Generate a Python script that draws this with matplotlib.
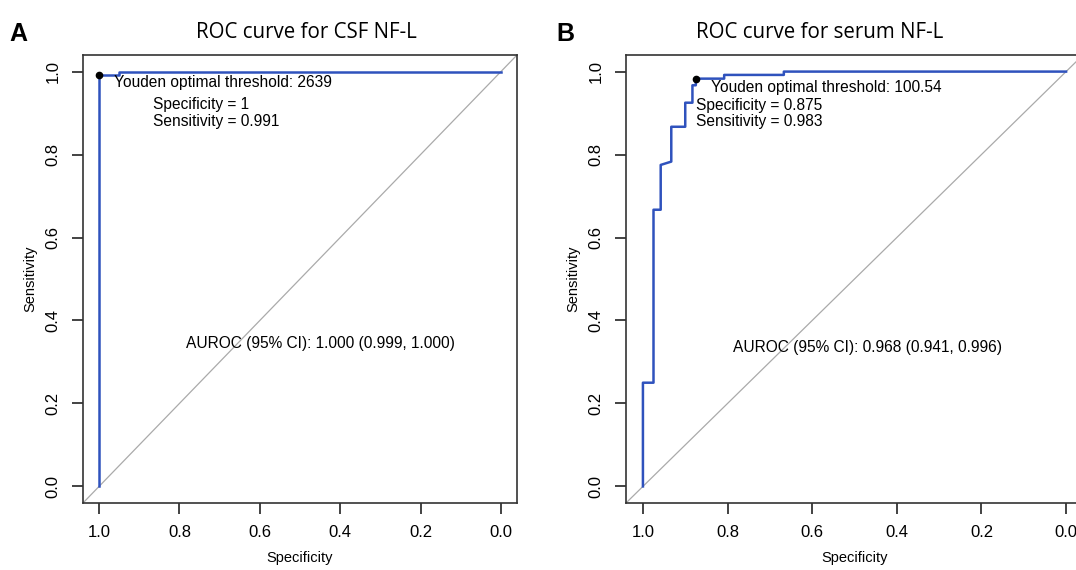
import matplotlib
matplotlib.use("Agg")
import matplotlib.pyplot as plt

plt.rcParams['font.family'] = ['Liberation Sans', 'DejaVu Sans']

# ROC path points (specificity, sensitivity)
csf_spec = [1.0, 1.0, 0.95, 0.95, 0.0]
csf_sens = [0.0, 0.991, 0.991, 1.0, 1.0]

serum_spec = [1.0, 1.0, 0.975, 0.975, 0.958, 0.958, 0.933, 0.933, 0.9, 0.9,
              0.883, 0.883, 0.875, 0.875, 0.808, 0.808, 0.667, 0.667, 0.0]
serum_sens = [0.0, 0.25, 0.25, 0.667, 0.667, 0.775, 0.783, 0.867, 0.867, 0.925,
              0.925, 0.967, 0.967, 0.983, 0.983, 0.992, 0.992, 1.0, 1.0]

titles = ["ROC curve for CSF NF-L", "ROC curve for serum NF-L"]
letters = ["A", "B"]
youden_thr = ["2639", "100.54"]
youden_spec = [1.0, 0.875]
youden_sens = [0.991, 0.983]
auroc = ["1.000 (0.999, 1.000)", "0.968 (0.941, 0.996)"]
ticks = [0.0, 0.2, 0.4, 0.6, 0.8, 1.0]

blue = '#2f52bd'

fig = plt.figure(figsize=(10.76, 5.70), dpi=100)
W, H = 1076, 570
boxes = [(83, 517), (626, 1083)]
top_px, bot_px = 55, 503

curves = [(csf_spec, csf_sens), (serum_spec, serum_sens)]
# label positions (data coords) for youden text lines
thr_pos = [(0.963, 0.974), (0.840, 0.962)]
spec_pos = [(0.866, 0.921), (0.874, 0.919)]
sens_pos = [(0.866, 0.880), (0.874, 0.879)]
auc_pos = [(0.449, 0.344), (0.470, 0.334)]
fs = 11.2

for i in range(2):
    l, r = boxes[i]
    ax = fig.add_axes([l / W, 1 - bot_px / H, (r - l) / W, (bot_px - top_px) / H])
    ax.set_xlim(1.04, -0.04)
    ax.set_ylim(-0.04, 1.04)
    # chance diagonal
    ax.plot([1.04, -0.04], [-0.04, 1.04], color='#aaaaaa', lw=0.9, zorder=1)
    sx, sy = curves[i]
    ax.plot(sx, sy, color=blue, lw=1.8, zorder=2)
    ax.plot(youden_spec[i], youden_sens[i], 'o', color='black', ms=4.5, zorder=3)

    ax.text(thr_pos[i][0], thr_pos[i][1], "Youden optimal threshold: " + youden_thr[i],
            ha='left', va='center', fontsize=fs)
    ax.text(spec_pos[i][0], spec_pos[i][1], "Specificity = %g" % youden_spec[i],
            ha='left', va='center', fontsize=fs)
    ax.text(sens_pos[i][0], sens_pos[i][1], "Sensitivity = %g" % youden_sens[i],
            ha='left', va='center', fontsize=fs)
    ax.text(auc_pos[i][0], auc_pos[i][1], "AUROC (95% CI): " + auroc[i],
            ha='center', va='center', fontsize=fs)

    ax.set_xticks(ticks)
    ax.set_yticks(ticks)
    ax.set_xticklabels(["%.1f" % t for t in ticks], fontsize=12)
    ax.set_yticklabels(["%.1f" % t for t in ticks], fontsize=12, rotation=90, va='center')
    ax.tick_params(length=8, width=1.2, color='#222222', pad=8)
    for s in ax.spines.values():
        s.set_linewidth(1.2)
        s.set_color('#333333')
    ax.set_xlabel("Specificity", fontsize=10.5, labelpad=8)
    ax.set_ylabel("Sensitivity", fontsize=10.5, labelpad=6)

    cx = 306 if i == 0 else 820
    fig.text(cx / W, 1 - 32 / H, titles[i], ha='center', va='center',
             fontsize=14.8, family=['Open Sans', 'DejaVu Sans'])
    fig.text((9 if i == 0 else 556) / W, 1 - 34 / H, letters[i], ha='left', va='center',
             fontsize=18, fontweight='bold')

fig.savefig("out.png", dpi=100)
